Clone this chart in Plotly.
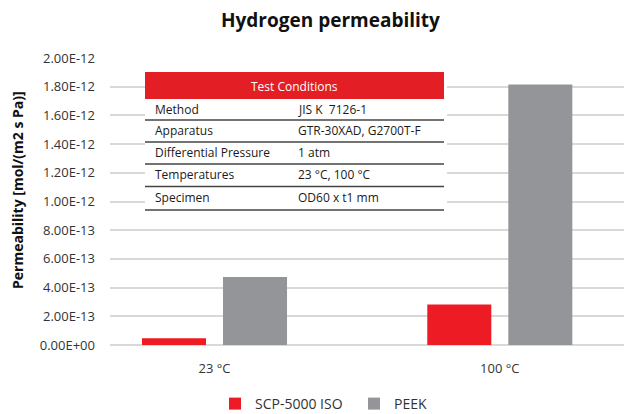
import plotly.graph_objects as go

# ---- data ----
categories = ["23 °C", "100 °C"]
scp_values = [4.7e-14, 2.82e-13]
peek_values = [4.74e-13, 1.815e-12]
series_names = ["SCP-5000 ISO", "PEEK"]
y_tickvals = [0, 2e-13, 4e-13, 6e-13, 8e-13, 1e-12, 1.2e-12, 1.4e-12, 1.6e-12, 1.8e-12, 2e-12]
y_ticktext = ["0.00E+00", "2.00E-13", "4.00E-13", "6.00E-13", "8.00E-13", "1.00E-12",
              "1.20E-12", "1.40E-12", "1.60E-12", "1.80E-12", "2.00E-12"]
table_header = "Test Conditions"
table_labels = ["Method", "Apparatus", "Differential Pressure", "Temperatures", "Specimen"]
table_values = ["JIS K  7126-1", "GTR-30XAD, G2700T-F", "1 atm", "23 °C, 100 °C", "OD60 x t1 mm"]

# ---- layout geometry (page pixels; the page body has an 8px margin) ----
OFF = 8
W, H = 632 - OFF, 414 - OFF
ML, MR, MT, MB = 110 - OFF, 6, 58 - OFF, 69
PW, PH = W - ML - MR, H - MT - MB

def px(x):
    return (x - OFF - ML) / PW

def py(y):
    return (H - MB - (y - OFF)) / PH

RED = "#ED1C24"
HEAD_RED = "#E31E24"
GRAY = "#939598"
FONT = "Open Sans"

fig = go.Figure()
fig.add_trace(go.Bar(x=categories, y=scp_values, name=series_names[0],
                     marker=dict(color=RED, line=dict(width=0))))
fig.add_trace(go.Bar(x=categories, y=peek_values, name=series_names[1],
                     marker=dict(color=GRAY, line=dict(width=0))))

shapes = []
annotations = []

# table background + header
tx0, tx1 = 145, 444
shapes.append(dict(type="rect", xref="paper", yref="paper", x0=px(tx0), x1=px(tx1 + 3),
                   y0=py(212), y1=py(70), fillcolor="white", line=dict(width=0), layer="above"))
shapes.append(dict(type="rect", xref="paper", yref="paper", x0=px(tx0), x1=px(tx1),
                   y0=py(99), y1=py(72), fillcolor=HEAD_RED, line=dict(width=0), layer="above"))
annotations.append(dict(text=table_header, xref="paper", yref="paper", x=px((tx0 + tx1) / 2),
                        y=py(86), showarrow=False, xanchor="center", yanchor="middle",
                        font=dict(family=FONT, size=12, color="white")))
row_lines = [120, 142, 164, 186.5, 210]
row_tops = [99] + row_lines[:-1]
for i, (lab, val) in enumerate(zip(table_labels, table_values)):
    yc = (row_tops[i] + row_lines[i]) / 2 - 0.5
    annotations.append(dict(text=lab, xref="paper", yref="paper", x=px(153), y=py(yc),
                            showarrow=False, xanchor="left", yanchor="middle",
                            font=dict(family=FONT, size=12, color="#1a1a1a")))
    annotations.append(dict(text=val, xref="paper", yref="paper", x=px(296), y=py(yc),
                            showarrow=False, xanchor="left", yanchor="middle",
                            font=dict(family=FONT, size=12, color="#1a1a1a")))
    shapes.append(dict(type="line", xref="paper", yref="paper", x0=px(tx0), x1=px(tx1),
                       y0=py(row_lines[i]), y1=py(row_lines[i]),
                       line=dict(color="#444444", width=1.3), layer="above"))

# title and y-axis title
annotations.append(dict(text="<b>Hydrogen permeability</b>", xref="paper", yref="paper",
                        x=px(330), y=py(20), showarrow=False, xanchor="center", yanchor="middle",
                        font=dict(family=FONT, size=19, color="#111111")))
annotations.append(dict(text="<b>Permeability [mol/(m2 s Pa)]</b>", xref="paper", yref="paper",
                        x=px(17), y=py(190), showarrow=False, xanchor="center", yanchor="middle",
                        textangle=-90, font=dict(family=FONT, size=14, color="#111111")))

fig.update_layout(
    width=W, height=H,
    margin=dict(l=ML, r=MR, t=MT, b=MB, autoexpand=False),
    paper_bgcolor="white", plot_bgcolor="white",
    barmode="group", bargap=0.432, bargroupgap=0.21,
    font=dict(family=FONT, size=13, color="#333333"),
    shapes=shapes, annotations=annotations,
    showlegend=True,
    legend=dict(orientation="h", x=px(215), xanchor="left", y=py(404), yanchor="middle",
                font=dict(family=FONT, size=14, color="#333333"), itemwidth=30,
                entrywidth=94, traceorder="normal"),
    xaxis=dict(type="category", range=[-0.3663, 1.4423], showgrid=False, showline=False,
               zeroline=False, ticks="", ticklabelstandoff=14,
               tickfont=dict(family=FONT, size=13, color="#333333")),
    yaxis=dict(range=[0, 2e-12], tickvals=y_tickvals, ticktext=y_ticktext,
               showgrid=True, gridcolor="#D9D9D9", gridwidth=1.5, zeroline=True,
               zerolinecolor="#D9D9D9", zerolinewidth=2, showline=False, ticks="",
               ticklabelstandoff=14,
               tickfont=dict(family=FONT, size=13, color="#333333")),
)

fig.write_html("out.html")
